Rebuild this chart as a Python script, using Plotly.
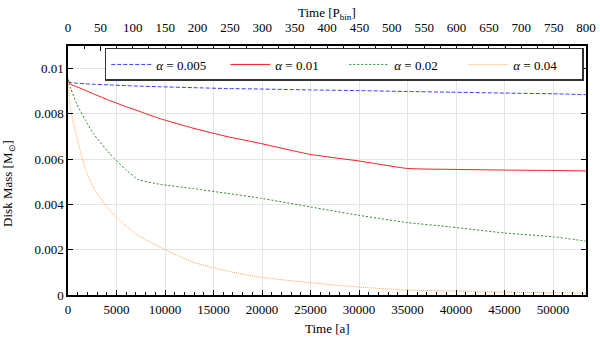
import plotly.graph_objects as go

# time in years
t_a = [0, 300, 900, 1750, 2600, 4300, 6000, 7250, 9500, 12900, 16400, 19800,
       25000, 30000, 35000, 39400, 45000, 50000, 53400]

m_005 = [0.00942, 0.00938, 0.00936, 0.00933, 0.00931, 0.00928, 0.00925, 0.00923, 0.00920,
         0.00916, 0.00912, 0.00910, 0.00906, 0.00903, 0.00899, 0.00896, 0.00892, 0.00889, 0.00885]
m_01 = [0.00950, 0.00930, 0.00920, 0.00905, 0.00889, 0.00859, 0.00832, 0.00813, 0.00779,
        0.00737, 0.00700, 0.00670, 0.00621, 0.00592, 0.00559, 0.00555, 0.00552, 0.00550, 0.00548]
m_02 = [0.00955, 0.00910, 0.00845, 0.00775, 0.00713, 0.00625, 0.00552, 0.00510, 0.00489,
        0.00470, 0.00449, 0.00428, 0.00389, 0.00352, 0.00320, 0.00301, 0.00274, 0.00257, 0.00238]
m_04 = [0.00955, 0.00810, 0.00700, 0.00560, 0.00476, 0.00374, 0.00304, 0.00262, 0.00211,
        0.00145, 0.00106, 0.00079, 0.00054, 0.00035, 0.00022, 0.00018, 0.00013, 0.00010, 0.00008]

labels = ["<i>α</i> = 0.005", "<i>α</i> = 0.01", "<i>α</i> = 0.02", "<i>α</i> = 0.04"]
colors = ["#3c3cf5", "#f02020", "#2a8a2a", "#ffa850"]
dashes = ["4px,2px", "solid", "2px,2px", "1px,1px"]

FONT = "Liberation Serif, Times New Roman, serif"
tickfont = dict(family=FONT, size=13, color="black")

fig = go.Figure()
for m, lab, c, d in zip([m_005, m_01, m_02, m_04], labels, colors, dashes):
    fig.add_trace(go.Scatter(x=t_a, y=m, mode="lines", name=lab,
                             line=dict(color=c, width=1, dash=d, shape="spline", smoothing=0.5)))

# dummy trace for the top axis (binary periods)
fig.add_trace(go.Scatter(x=[0, 800], y=[0, 0], xaxis="x2", mode="lines",
                         line=dict(width=0), showlegend=False, hoverinfo="skip"))

axis_common = dict(showline=True, linecolor="black", linewidth=1.5, ticks="inside", ticklen=5,
                   tickcolor="black", zeroline=False, automargin=False, tickfont=tickfont)

fig.update_layout(
    width=600, height=340,
    margin=dict(l=68, r=14, t=46, b=45, autoexpand=False),
    plot_bgcolor="white", paper_bgcolor="white",
    font=dict(family=FONT, size=13, color="black"),
    showlegend=True,
    legend=dict(orientation="h", x=0.071, y=0.992, xanchor="left", yanchor="top",
                bgcolor="white", bordercolor="#333333", borderwidth=1.5,
                font=dict(family=FONT, size=13), entrywidth=64, itemwidth=40,
                tracegroupgap=0),
    xaxis=dict(range=[0, 53400], dtick=5000, tick0=0, tickformat="d",
               showgrid=True, gridcolor="#e4e4e4", ticklabelstandoff=2,
               minor=dict(ticks="inside", dtick=1000, ticklen=3, tickcolor="black", showgrid=False),
               **axis_common),
    xaxis2=dict(range=[0, 800], dtick=50, tick0=0, overlaying="x", side="top", showgrid=False,
                ticklabelstandoff=7,
                minor=dict(ticks="inside", dtick=25, ticklen=3, tickcolor="black"),
                **axis_common),
    yaxis=dict(range=[0, 0.011], tickvals=[0, 0.002, 0.004, 0.006, 0.008, 0.01],
               ticktext=["0", "0.002", "0.004", "0.006", "0.008", "0.01"],
               showgrid=True, gridcolor="#e4e4e4", mirror="ticks", **axis_common),
)

# axis titles
fig.add_annotation(text="Time [a]", xref="paper", yref="paper", x=0.5, y=-0.133,
                   xanchor="center", yanchor="middle", showarrow=False, font=dict(family=FONT, size=13))
fig.add_annotation(text="Time [P<sub>bin</sub>]", xref="paper", yref="paper", x=0.5, y=1.13,
                   xanchor="center", yanchor="middle", showarrow=False, font=dict(family=FONT, size=13))
fig.add_annotation(text="Disk Mass [M<sub>⊙</sub>]", xref="paper", yref="paper", x=-0.114, y=0.45,
                   xanchor="center", yanchor="middle", textangle=-90, showarrow=False,
                   font=dict(family=FONT, size=13))

fig.write_html("out.html", config={"displayModeBar": False},
               post_script="document.body.style.margin='0';")
